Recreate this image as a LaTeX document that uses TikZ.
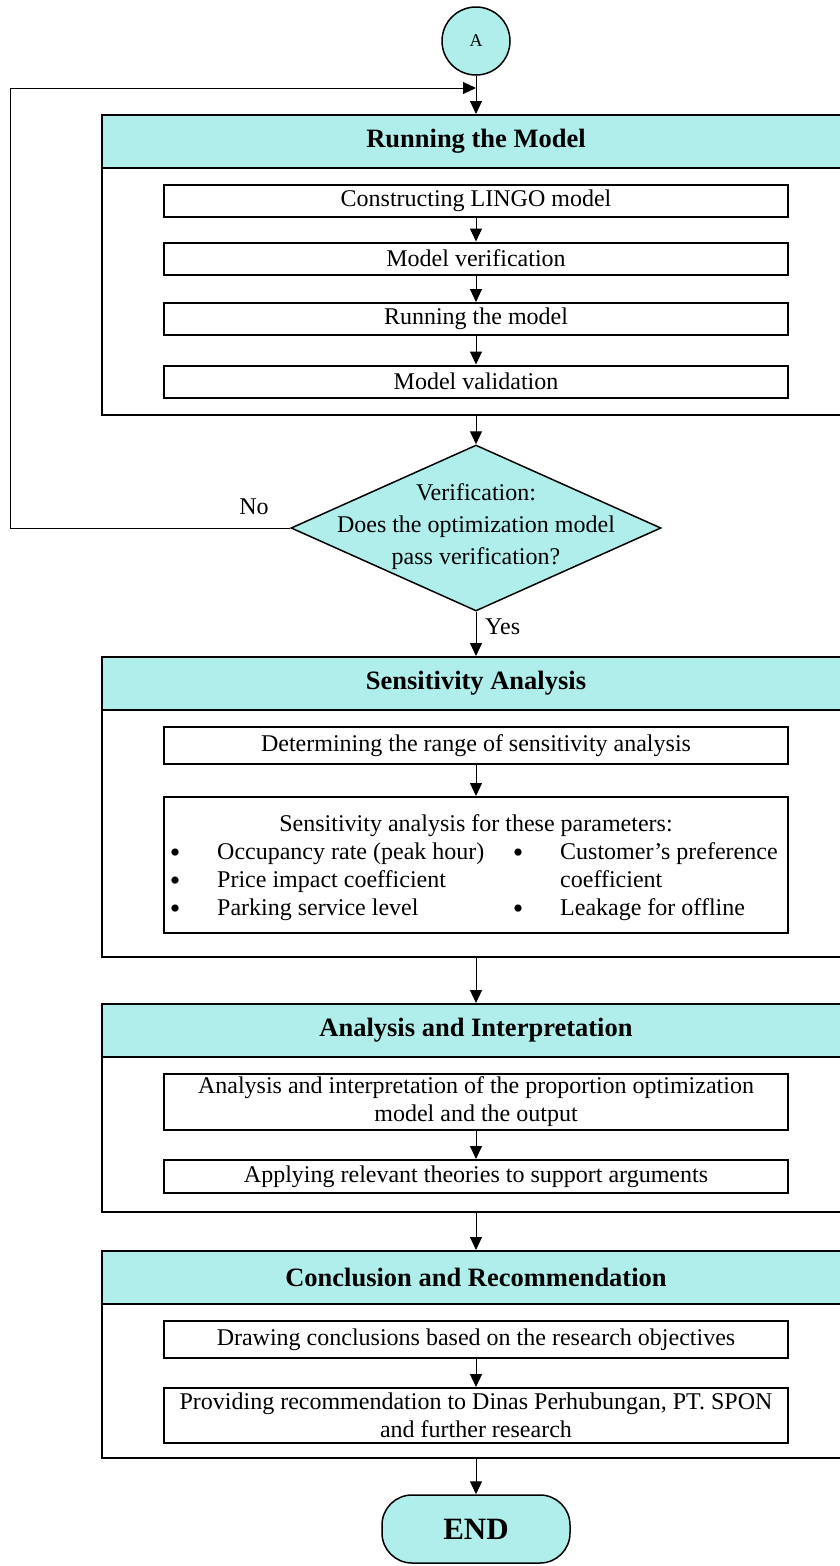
\documentclass[tikz,border=0pt]{standalone}
\usepackage{fontspec}
\setmainfont{Liberation Serif}
\usetikzlibrary{arrows.meta,shapes.geometric}
\definecolor{hdrfill}{HTML}{AFEEEA}
\newcommand\txfont{\fontsize{24}{28}\selectfont}
\newcommand\hdfont{\fontsize{26.5}{30}\selectfont\bfseries}
\tikzset{
  conn/.style={line width=1pt, -{Triangle[length=13pt,width=12pt]}},
  outerbox/.style={draw, line width=2pt, minimum width=748pt, inner sep=0pt},
  header/.style={draw, line width=2pt, fill=hdrfill, minimum width=748pt,
    minimum height=53pt, inner sep=0pt, font=\hdfont},
  innerbox/.style={draw, line width=2pt, minimum width=624pt, inner sep=0pt,
    font=\txfont, align=center},
  txt/.style={inner sep=0pt, font=\txfont},
  bul/.style={inner sep=0pt, anchor=base, font=\fontsize{30}{30}\selectfont,
    text height=14pt, text depth=0pt},
}
\begin{document}
\begin{tikzpicture}[x=1pt, y=-1pt]
\useasboundingbox (0,0) rectangle (840,1566);
\clip (0,0) rectangle (840,1566);

% start connector
\node[draw, circle, line width=1.5pt, fill=hdrfill, minimum size=68pt,
  inner sep=0pt, font=\fontsize{18}{20}\selectfont] (A) at (476,41) {A};

% ---- Running the Model ----
\node[outerbox, minimum height=300pt] (s1) at (476,265) {};
\node[header] (h1) at (476,141.5) {Running the Model};
\node[innerbox, minimum height=32pt] (b11) at (476,201) {Constructing LINGO model};
\node[innerbox, minimum height=32pt] (b12) at (476,258.5) {Model verification};
\node[innerbox, minimum height=32pt] (b13) at (476,319) {Running the model};
\node[innerbox, minimum height=32pt] (b14) at (476,381.5) {Model validation};
\draw[conn] (A) -- (h1);
\draw[conn] (b11) -- (b12);
\draw[conn] (b12) -- (b13);
\draw[conn] (b13) -- (b14);

% ---- verification decision ----
\node[draw, diamond, line width=1.5pt, fill=hdrfill, minimum width=370pt,
  minimum height=166pt, inner sep=0pt] (d) at (476,528) {};
\node[txt, align=center, font=\fontsize{24}{32}\selectfont] (dq) at (476,527)
  {Verification:\\Does the optimization model\\pass verification?};
\draw[conn] (s1) -- (d);
\coordinate (fbl) at (10,528);
\coordinate (fbj) at (476,88);
\draw[conn] (d.west) -- (fbl) |- (fbj);
\node[txt] (no) at (254,507) {No};
\node[txt, anchor=west] (yes) at (485,627) {Yes};

% ---- Sensitivity Analysis ----
\node[outerbox, minimum height=300pt] (s2) at (476,807) {};
\node[header] (h2) at (476,683.5) {Sensitivity Analysis};
\node[innerbox, minimum height=37pt] (b21) at (476,745.5)
  {Determining the range of sensitivity analysis};
\node[innerbox, minimum height=136pt] (b22) at (476,865) {};
\node[txt, anchor=base] (p0) at (476,831) {Sensitivity analysis for these parameters:};
\node[bul] (u1) at (175,862) {•};
\node[txt, anchor=base west] (p1) at (217,859) {Occupancy rate (peak hour)};
\node[bul] (u2) at (175,890) {•};
\node[txt, anchor=base west] (p2) at (217,887) {Price impact coefficient};
\node[bul] (u3) at (175,918) {•};
\node[txt, anchor=base west] (p3) at (217,915) {Parking service level};
\node[bul] (u4) at (518,862) {•};
\node[txt, anchor=base west] (p4) at (560,859) {Customer’s preference};
\node[txt, anchor=base west] (p5) at (560,887) {coefficient};
\node[bul] (u6) at (518,918) {•};
\node[txt, anchor=base west] (p6) at (560,915) {Leakage for offline};
\draw[conn] (d) -- (h2);
\draw[conn] (b21) -- (b22);

% ---- Analysis and Interpretation ----
\node[outerbox, minimum height=208pt] (s3) at (476,1108) {};
\node[header] (h3) at (476,1030.5) {Analysis and Interpretation};
\node[innerbox, minimum height=56pt] (b31) at (476,1102)
  {Analysis and interpretation of the proportion optimization\\model and the output};
\node[innerbox, minimum height=33pt] (b32) at (476,1176.5)
  {Applying relevant theories to support arguments};
\draw[conn] (s2) -- (h3);
\draw[conn] (b31) -- (b32);

% ---- Conclusion and Recommendation ----
\node[outerbox, minimum height=207pt] (s4) at (476,1354.5) {};
\node[header] (h4) at (476,1277.5) {Conclusion and Recommendation};
\node[innerbox, minimum height=37pt] (b41) at (476,1339.5)
  {Drawing conclusions based on the research objectives};
\node[innerbox, minimum height=55pt] (b42) at (476,1415.5)
  {Providing recommendation to Dinas Perhubungan, PT. SPON\\and further research};
\draw[conn] (s3) -- (h4);
\draw[conn] (b41) -- (b42);

% terminator
\node[draw, line width=1.5pt, fill=hdrfill, rounded corners=30pt,
  minimum width=188pt, minimum height=68pt, inner sep=0pt,
  font=\fontsize{31}{34}\selectfont\bfseries] (end) at (476,1529) {END};
\draw[conn] (s4) -- (end);
\end{tikzpicture}
\end{document}
